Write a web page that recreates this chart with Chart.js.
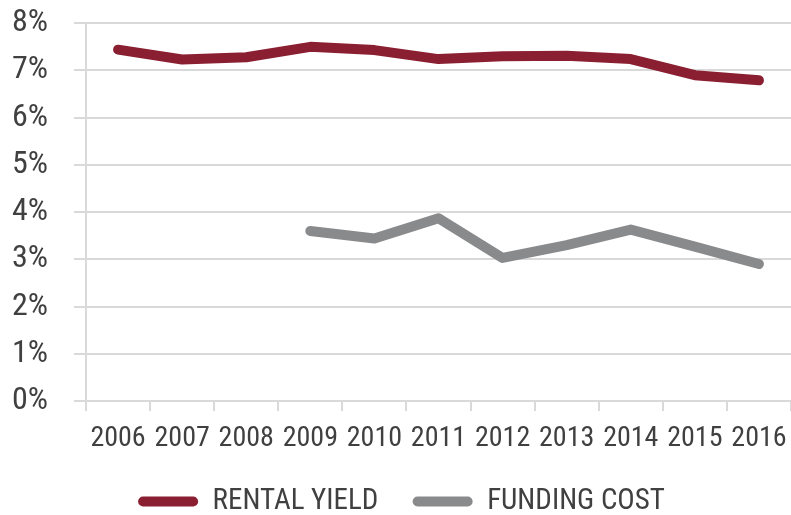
<!DOCTYPE html>
<html>
<head>
<meta charset="utf-8">
<script src="https://cdn.jsdelivr.net/npm/chart.js@4"></script>
<style>
  html, body { margin: 0; padding: 0; background: #fff; }
  #wrap { width: 791px; height: 515px; }
</style>
</head>
<body>
<div id="wrap"><canvas id="yieldChart"></canvas></div>
<script>
const years = ['2006', '2007', '2008', '2009', '2010', '2011', '2012', '2013', '2014', '2015', '2016'];
const rentalYield = [7.44, 7.23, 7.28, 7.50, 7.43, 7.24, 7.30, 7.31, 7.24, 6.90, 6.79];
const fundingCost = [null, null, null, 3.60, 3.44, 3.87, 3.03, 3.30, 3.63, 3.27, 2.90];

const RED = '#8b1f32';
const GREY = '#898a8c';
const FONT = "'Roboto Condensed', 'Arial Narrow', Roboto, sans-serif";

const ctx = document.getElementById('yieldChart').getContext('2d');
new Chart(ctx, {
    type: 'line',
    data: {
        labels: years,
        datasets: [
            {
                label: 'RENTAL YIELD',
                data: rentalYield,
                borderColor: RED,
                backgroundColor: RED,
                borderWidth: 10,
                borderCapStyle: 'round',
                borderJoinStyle: 'round',
                pointRadius: 0,
                tension: 0
            },
            {
                label: 'FUNDING COST',
                data: fundingCost,
                borderColor: GREY,
                backgroundColor: GREY,
                borderWidth: 10,
                borderCapStyle: 'round',
                borderJoinStyle: 'round',
                pointRadius: 0,
                tension: 0
            }
        ]
    },
    options: {
        responsive: true,
        maintainAspectRatio: false,
        animation: false,
        // legend sits right on the bottom edge
        layout: { padding: { top: 0, right: 0, left: 12, bottom: -11 } },
        scales: {
            x: {
                offset: true,
                // leave room between the axis and the legend
                afterFit: scale => { scale.height = 85; },
                grid: {
                    offset: true,
                    drawOnChartArea: false,
                    color: '#d9d9d9',
                    lineWidth: 2,
                    tickLength: 10
                },
                border: { color: '#d9d9d9', width: 2 },
                ticks: {
                    color: '#404040',
                    font: { family: FONT, size: 28, lineHeight: 2 },
                    maxRotation: 0,
                    autoSkip: false,
                    padding: 0
                }
            },
            y: {
                min: 0,
                max: 8,
                afterFit: scale => { scale.width = 74; },
                grid: {
                    color: '#d9d9d9',
                    lineWidth: 2,
                    tickLength: 12
                },
                border: { color: '#d9d9d9', width: 2 },
                ticks: {
                    stepSize: 1,
                    color: '#404040',
                    font: { family: FONT, size: 32 },
                    padding: 4,
                    crossAlign: 'far',
                    callback: v => v + '%'
                }
            }
        },
        plugins: {
            tooltip: { enabled: false },
            legend: {
                position: 'bottom',
                labels: {
                    color: '#404040',
                    font: { family: FONT, size: 29 },
                    boxWidth: 60,
                    boxHeight: 10,
                    useBorderRadius: true,
                    borderRadius: 5,
                    padding: 1,
                    // no stroke round the swatch; trailing spaces separate the two entries
                    generateLabels: chart =>
                        Chart.defaults.plugins.legend.labels.generateLabels(chart)
                            .map((item, i) => ({
                                ...item,
                                lineWidth: 0,
                                text: i === 0 ? item.text + '     ' : item.text
                            }))
                }
            }
        }
    }
});
</script>
</body>
</html>
